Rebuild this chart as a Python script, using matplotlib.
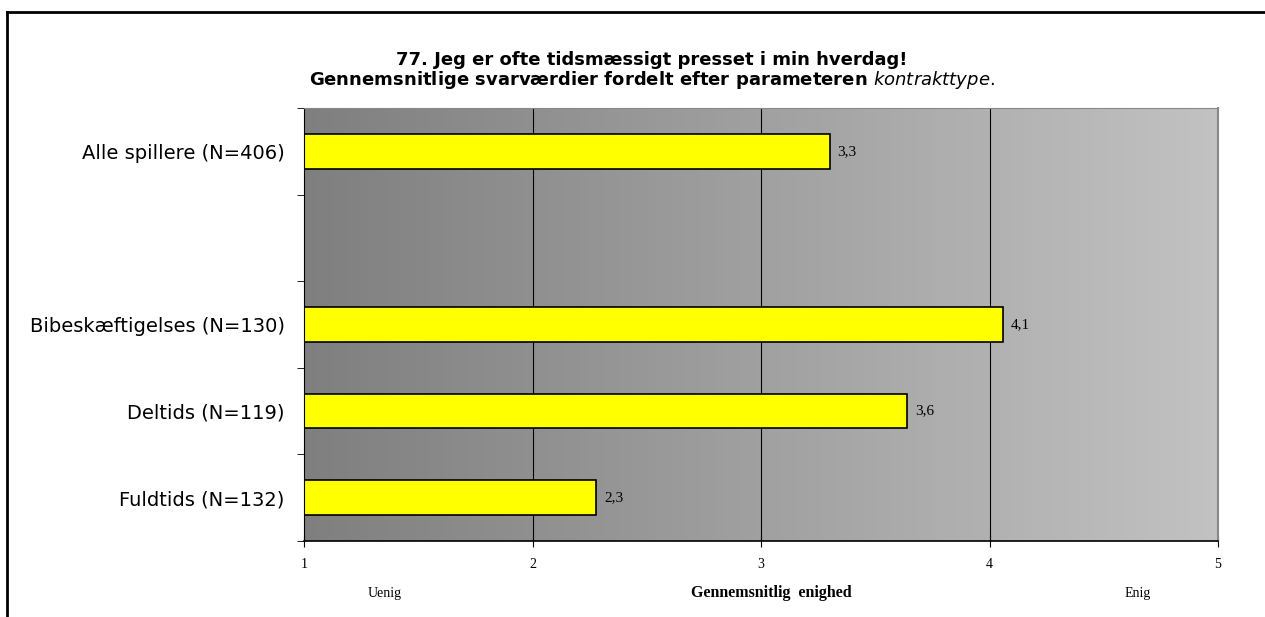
import numpy as np
import matplotlib
matplotlib.use('Agg')
import matplotlib.pyplot as plt
from matplotlib.lines import Line2D

kategorier = ['Fuldtids (N=132)', 'Deltids (N=119)', 'Bibeskæftigelses (N=130)', '', 'Alle spillere (N=406)']
vaerdier = [2.28, 3.64, 4.06, None, 3.30]
x_ticks = [1, 2, 3, 4, 5]

fig = plt.figure(figsize=(12.65, 6.17), dpi=100)
ax = fig.add_axes([304 / 1265, 1 - 541 / 617, (1218 - 304) / 1265, (541 - 108) / 617])

# grå gradient i baggrunden
grad = np.linspace(0, 1, 256).reshape(1, -1)
cmap = matplotlib.colors.LinearSegmentedColormap.from_list('g', ['#7f7f7f', '#c2c2c2'])
ax.imshow(grad, extent=[1, 5, -0.5, 4.5], aspect='auto', cmap=cmap, zorder=0)

for x in [2, 3, 4]:
    ax.axvline(x, color='black', lw=0.8, zorder=1)

for i, v in enumerate(vaerdier):
    if v is None:
        continue
    ax.barh(i, v - 1, left=1, height=0.4, color='#ffff00', edgecolor='black', lw=1.2, zorder=2)
    ax.text(v + 0.035, i, f'{v:.1f}'.replace('.', ','), va='center', ha='left',
            fontsize=11, family='Liberation Serif')

ax.set_xlim(1, 5)
ax.set_ylim(-0.5, 4.5)
ax.set_xticks(x_ticks)
ax.set_xticklabels([str(t) for t in x_ticks], family='Liberation Serif', fontsize=10)
ax.tick_params(axis='x', direction='inout', length=8, pad=8)
ax.set_yticks(range(5))
ax.set_yticklabels(kategorier, family='DejaVu Sans', fontsize=14)
ax.set_yticks([-0.5, 0.5, 1.5, 2.5, 3.5, 4.5], minor=True)
ax.tick_params(axis='y', which='major', length=0, pad=14)
ax.tick_params(axis='y', which='minor', direction='out', length=5)

ax.spines['top'].set_color('#888888')
ax.spines['right'].set_color('#888888')
ax.spines['right'].set_linewidth(1.5)
ax.spines['left'].set_color('black')
ax.spines['bottom'].set_color('black')
ax.spines['bottom'].set_linewidth(1.2)

fig.text(385 / 1265, 1 - 594 / 617, 'Uenig', ha='center', va='center', family='Liberation Serif', fontsize=10)
fig.text(1138 / 1265, 1 - 594 / 617, 'Enig', ha='center', va='center', family='Liberation Serif', fontsize=10)
fig.text(771 / 1265, 1 - 593 / 617, 'Gennemsnitlig  enighed', ha='center', va='center',
         family='Liberation Serif', fontsize=11.5, fontweight='bold')

fig.text(652 / 1265, 1 - 60 / 617, '77. Jeg er ofte tidsmæssigt presset i min hverdag!',
         ha='center', va='center', fontsize=13, fontweight='bold', family='DejaVu Sans')
fig.text(652 / 1265, 1 - 80 / 617,
         r'Gennemsnitlige svarværdier fordelt efter parameteren $\it{kontrakttype.}$',
         ha='center', va='center', fontsize=13, fontweight='bold', family='DejaVu Sans')

# ramme om figuren
fig.add_artist(Line2D([7.5 / 1265, 7.5 / 1265], [0, 1 - 12 / 617], color='black', lw=2, transform=fig.transFigure))
fig.add_artist(Line2D([7.5 / 1265, 1], [1 - 12 / 617, 1 - 12 / 617], color='black', lw=2, transform=fig.transFigure))

fig.savefig('out.png', dpi=100)
